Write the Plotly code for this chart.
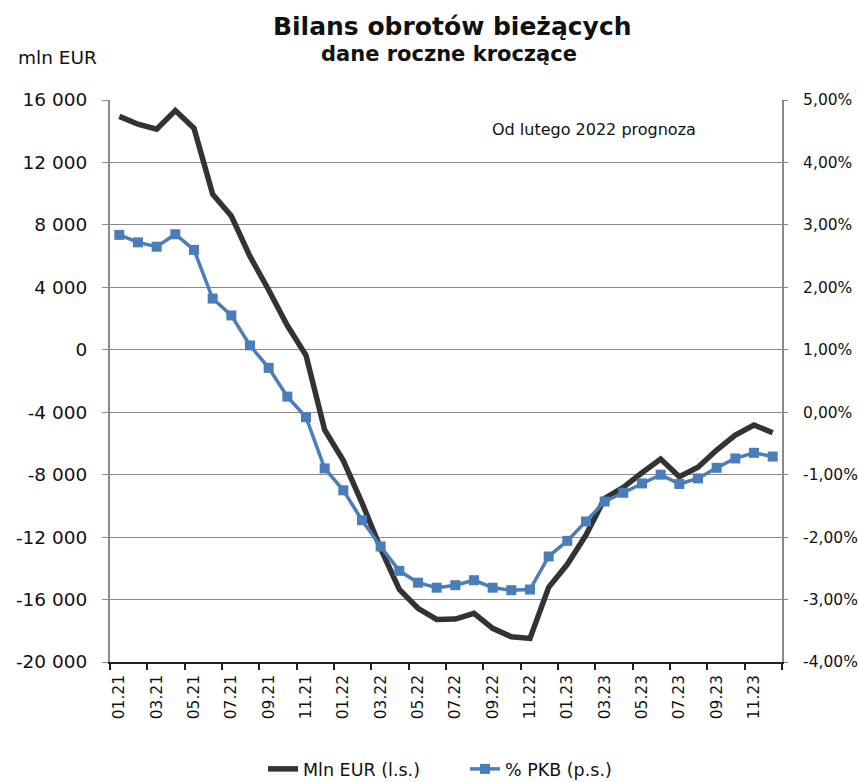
import plotly.graph_objects as go

months = ["01.21","02.21","03.21","04.21","05.21","06.21","07.21","08.21","09.21","10.21","11.21","12.21",
          "01.22","02.22","03.22","04.22","05.22","06.22","07.22","08.22","09.22","10.22","11.22","12.22",
          "01.23","02.23","03.23","04.23","05.23","06.23","07.23","08.23","09.23","10.23","11.23","12.23"]

mln_eur = [14950, 14450, 14130, 15320, 14190, 9960, 8570, 5980, 3830, 1550, -360, -5140,
           -7100, -9800, -12740, -15350, -16560, -17270, -17250, -16880, -17840, -18380, -18490, -15220,
           -13740, -11870, -9520, -8810, -7880, -7000, -8130, -7530, -6420, -5460, -4820, -5310]

pct_pkb = [2.84, 2.72, 2.65, 2.85, 2.60, 1.82, 1.55, 1.07, 0.71, 0.25, -0.08, -0.90,
           -1.25, -1.73, -2.15, -2.54, -2.73, -2.81, -2.77, -2.69, -2.81, -2.85, -2.84, -2.31,
           -2.06, -1.75, -1.43, -1.29, -1.14, -1.00, -1.15, -1.06, -0.89, -0.74, -0.65, -0.71]

left_ticks = [16000, 12000, 8000, 4000, 0, -4000, -8000, -12000, -16000, -20000]
left_labels = ["16 000", "12 000", "8 000", "4 000", "0", "-4 000", "-8 000", "-12 000", "-16 000", "-20 000"]
right_ticks = [5, 4, 3, 2, 1, 0, -1, -2, -3, -4]
right_labels = ["5,00%", "4,00%", "3,00%", "2,00%", "1,00%", "0,00%", "-1,00%", "-2,00%", "-3,00%", "-4,00%"]

x = list(range(len(months)))
label_idx = x[::2]
label_txt = months[::2]

FONT = "DejaVu Sans"
W, H = 858, 782
L, R, T, B = 110, 76, 100, 120
pw, ph = W - L - R, H - T - B


def px2paper(px, py):
    return (px - L) / pw, 1 - (py - T) / ph


fig = go.Figure()
fig.add_trace(go.Scatter(x=x, y=mln_eur, mode="lines", name="Mln EUR (l.s.)",
                         line=dict(color="#333333", width=5.5), yaxis="y"))
fig.add_trace(go.Scatter(x=x, y=pct_pkb, mode="lines+markers", name="% PKB (p.s.)",
                         line=dict(color="#4a7ebb", width=3.5),
                         marker=dict(symbol="square", size=10, color="#4a7ebb"), yaxis="y2"))

fig.update_layout(
    width=W, height=H,
    margin=dict(l=L, r=R, t=T, b=B, autoexpand=False),
    paper_bgcolor="white", plot_bgcolor="white",
    font=dict(family=FONT, color="black", size=16),
    showlegend=True,
    legend=dict(orientation="h", xref="container", yref="container",
                x=263 / W, xanchor="left", y=1 - 769 / H, yanchor="middle",
                font=dict(size=17.5, family=FONT, color="#111111"),
                entrywidth=157, entrywidthmode="pixels", bgcolor="rgba(0,0,0,0)"),
    xaxis=dict(range=[-0.5, 35.5], tickmode="array", tickvals=label_idx, ticktext=label_txt,
               tickangle=-90, tickfont=dict(size=15.5, family=FONT, color="#111111"), ticks="", showgrid=False,
               showline=True, linecolor="#222222", linewidth=1.5, zeroline=False, automargin=False,
               ticklabelstandoff=5,
               minor=dict(tickmode="array", tickvals=[i - 0.5 for i in range(0, 37, 2)],
                          ticks="outside", ticklen=6, tickcolor="#222222", tickwidth=1.5)),
    yaxis=dict(range=[-20000, 16000], tickmode="array", tickvals=left_ticks, ticktext=left_labels,
               tickfont=dict(size=18.5, family=FONT, color="#111111"), showgrid=True, gridcolor="#8a8a8a",
               gridwidth=1.3, showline=True, linecolor="#8a8a8a", linewidth=2, ticks="outside", ticklen=6,
               tickcolor="#8a8a8a", zeroline=False, ticklabelstandoff=11, automargin=False),
    yaxis2=dict(range=[-4, 5], overlaying="y", side="right", tickmode="array",
                tickvals=right_ticks, ticktext=right_labels, tickfont=dict(size=15.5, family=FONT, color="#111111"),
                showgrid=False, showline=True, linecolor="#8a8a8a", linewidth=2, ticks="outside",
                ticklen=4, tickcolor="#8a8a8a", zeroline=False, ticklabelstandoff=12, automargin=False),
)

texts = [
    ("<b>Bilans obrotów bieżących</b>", 452, 27, 25),
    ("<b>dane roczne kroczące</b>", 449, 54, 21),
    ("mln EUR", 57, 58, 18.5),
    ("Od lutego 2022 prognoza", 594, 129, 16),
]
for t, ax, ay, fs in texts:
    xx, yy = px2paper(ax, ay)
    fig.add_annotation(text=t, x=xx, y=yy, xref="paper", yref="paper", showarrow=False,
                       xanchor="center", yanchor="middle", font=dict(size=fs, family=FONT, color="#111111"))

fig.write_html("out.html", config={"displayModeBar": False},
               post_script="document.body.style.margin='0';document.body.style.overflow='hidden';")
